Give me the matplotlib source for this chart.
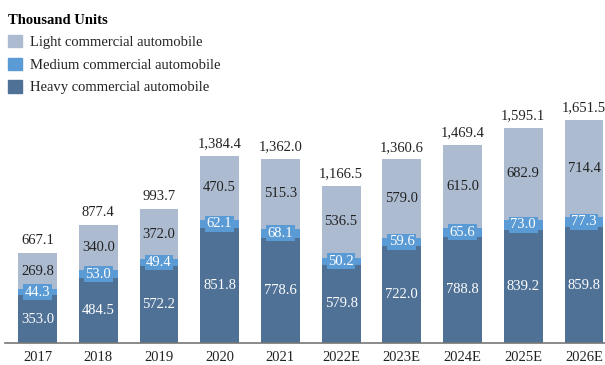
import matplotlib.pyplot as plt
from matplotlib.patches import Patch

# dados (mil unidades)
anos = ['2017', '2018', '2019', '2020', '2021', '2022E', '2023E', '2024E', '2025E', '2026E']
pesados = [353.0, 484.5, 572.2, 851.8, 778.6, 579.8, 722.0, 788.8, 839.2, 859.8]
medios = [44.3, 53.0, 49.4, 62.1, 68.1, 50.2, 59.6, 65.6, 73.0, 77.3]
leves = [269.8, 340.0, 372.0, 470.5, 515.3, 536.5, 579.0, 615.0, 682.9, 714.4]
totais = [667.1, 877.4, 993.7, 1384.4, 1362.0, 1166.5, 1360.6, 1469.4, 1595.1, 1651.5]

cor_pesado = '#4F7196'
cor_medio = '#5B9BD5'
cor_leve = '#ADBBD0'

plt.rcParams['font.family'] = ['Liberation Serif', 'DejaVu Serif']

fig = plt.figure(figsize=(6.05, 3.65), dpi=100)
ax = fig.add_axes([5 / 605, 0.06, 1 - 5 / 605, 0.94])

x = list(range(len(anos)))
base_leve = [p + m for p, m in zip(pesados, medios)]
larg = 0.64

ax.bar(x, pesados, larg, color=cor_pesado)
ax.bar(x, medios, larg, bottom=pesados, color=cor_medio)
ax.bar(x, leves, larg, bottom=base_leve, color=cor_leve)

fs = 10.5
for i in x:
    ax.text(i, pesados[i] / 2, f'{pesados[i]:.1f}', ha='center', va='center',
            color='white', fontsize=fs)
    ax.text(i, pesados[i] + medios[i] / 2, f'{medios[i]:.1f}', ha='center', va='center',
            color='white', fontsize=fs,
            bbox=dict(boxstyle='square,pad=0.1', fc=cor_medio, ec='none'))
    ax.text(i, base_leve[i] + leves[i] / 2, f'{leves[i]:.1f}', ha='center', va='center',
            color='#222222', fontsize=fs)
    ax.annotate(f'{totais[i]:,.1f}', (i, totais[i]), xytext=(0, 4), textcoords='offset points',
                ha='center', va='bottom', color='#222222', fontsize=fs)

ax.set_xlim(-0.535, 9.346)
ax.set_ylim(0, 2540)
ax.set_xticks(x)
ax.set_xticklabels(anos, fontsize=fs, color='#222222')
ax.tick_params(axis='x', length=0, pad=6)
ax.set_yticks([])
for lado in ['top', 'right', 'left']:
    ax.spines[lado].set_visible(False)
ax.spines['bottom'].set_color('#777777')
ax.spines['bottom'].set_linewidth(1.2)

# legenda
handles = [Patch(color=cor_leve), Patch(color=cor_medio), Patch(color=cor_pesado)]
nomes = ['Light commercial automobile', 'Medium commercial automobile', 'Heavy commercial automobile']
leg = fig.legend(handles, nomes, loc='upper left', bbox_to_anchor=(-0.004, 0.99),
                 frameon=False, fontsize=fs, title='Thousand Units',
                 title_fontproperties={'weight': 'bold', 'size': fs},
                 handlelength=1.0, handleheight=0.9, handletextpad=0.55,
                 labelspacing=0.58, borderaxespad=0.3)
leg._legend_box.align = 'left'
for t in leg.get_texts():
    t.set_color('#222222')

fig.savefig('out.png', dpi=100)
